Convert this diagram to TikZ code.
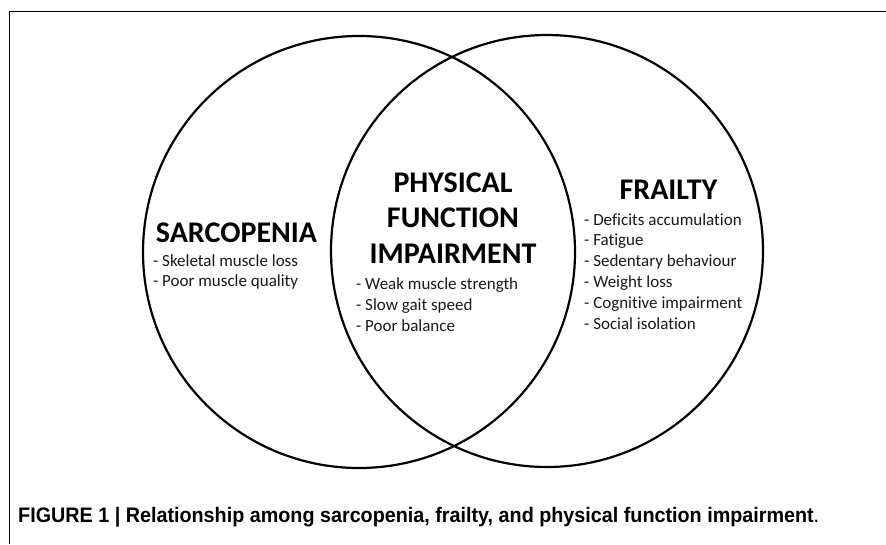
\documentclass[tikz,border=0pt]{standalone}
\usepackage{fontspec}
\usepackage{graphicx}
\setmainfont{Carlito}[Ligatures=NoCommon]
\newfontfamily\capfont{Liberation Sans}
\tikzset{
  ring/.style={circle, draw=black, line width=2.2pt, minimum size=432pt, inner sep=0pt},
  head/.style={anchor=base, inner sep=0pt, font=\bfseries\fontsize{30}{33}\selectfont},
  item/.style={anchor=base west, inner sep=0pt, text=black!90, font=\fontsize{17}{20}\selectfont},
  capt/.style={anchor=base west, inner sep=0pt}
}
\begin{document}
\begin{tikzpicture}[x=1pt, y=-1pt]
\useasboundingbox (0,0) rectangle (886,544);
\fill[white] (0,0) rectangle (886,544);
% frame
\coordinate (fb) at (9.5,544);
\coordinate (fc) at (9.5,11.5);
\coordinate (fr) at (886,11.5);
\draw[line width=1.2pt] (fb) -- (fc) -- (fr);
% circles
\node[ring] (sarc) at (359,252) {};
\node[ring] (frail) at (547,251) {};
% sarcopenia
\node[head] (h1) at (236.5,242) {SARCOPENIA};
\node[item] (s1) at (153,266) {- Skeletal muscle loss};
\node[item] (s2) at (153,286) {- Poor muscle quality};
% physical function impairment
\node[head] (p1) at (453,192) {PHYSICAL};
\node[head] (p2) at (453,227.5) {FUNCTION};
\node[head] (p3) at (453,263) {IMPAIRMENT};
\node[item] (q1) at (356,289) {- Weak muscle strength};
\node[item] (q2) at (356,310) {- Slow gait speed};
\node[item] (q3) at (356,331) {- Poor balance};
% frailty
\node[head] (f0) at (668.5,199) {FRAILTY};
\node[item] (f1) at (584,225) {- Deficits accumulation};
\node[item] (f2) at (584,245.5) {- Fatigue};
\node[item] (f3) at (584,266) {- Sedentary behaviour};
\node[item] (f4) at (584,287) {- Weight loss};
\node[item] (f5) at (584,308) {- Cognitive impairment};
\node[item] (f6) at (584,329) {- Social isolation};
% caption
\node[capt] (cap) at (18,522) {\resizebox{801pt}{\height}{\capfont\fontsize{21}{23}\selectfont\textbf{FIGURE 1 | Relationship among sarcopenia, frailty, and physical function impairment}.}};
\end{tikzpicture}
\end{document}
